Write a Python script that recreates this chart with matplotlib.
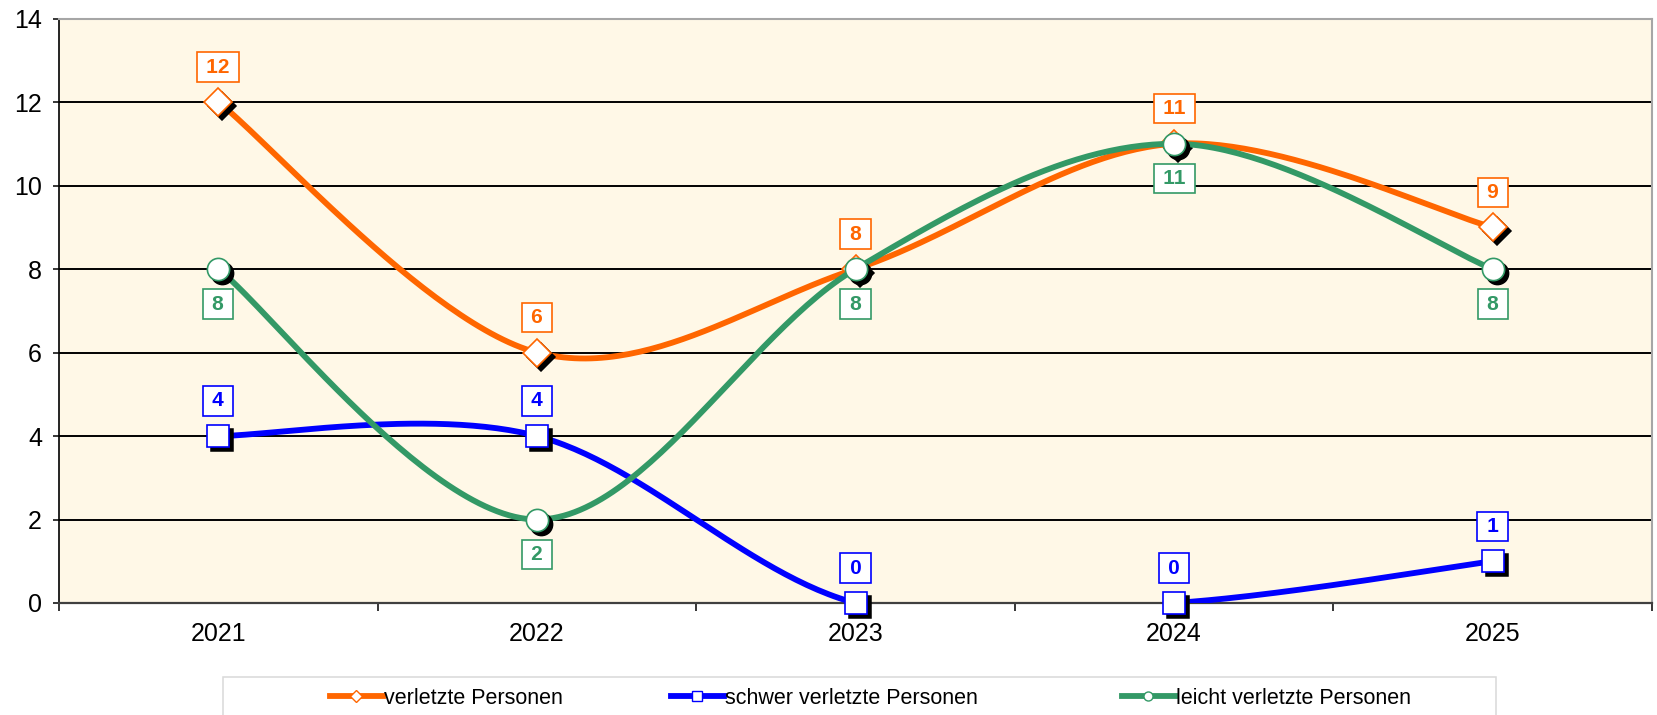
import numpy as np
import matplotlib
matplotlib.use("Agg")
import matplotlib.pyplot as plt
from matplotlib.transforms import ScaledTranslation
from matplotlib.lines import Line2D
from matplotlib.patches import Rectangle

plt.rcParams['font.family'] = ['Liberation Sans', 'DejaVu Sans']

years = ["2021", "2022", "2023", "2024", "2025"]
verletzte = [12, 6, 8, 11, 9]
schwer = [4, 4, 0, 0, 1]
leicht = [8, 2, 8, 11, 8]
series_names = ["verletzte Personen", "schwer verletzte Personen", "leicht verletzte Personen"]
yticks = [0, 2, 4, 6, 8, 10, 12, 14]

C_OR = "#FF6600"
C_BL = "#0000FF"
C_GR = "#339966"
BG = "#FFF8E7"

def smooth(xs, ys, n=60):
    xs = np.asarray(xs, float); ys = np.asarray(ys, float)
    P = np.column_stack([xs, ys])
    out = []
    m = len(P)
    for i in range(m - 1):
        p0 = P[max(i - 1, 0)]; p1 = P[i]; p2 = P[i + 1]; p3 = P[min(i + 2, m - 1)]
        c1 = p1 + (p2 - p0) / 6.0
        c2 = p2 - (p3 - p1) / 6.0
        t = np.linspace(0, 1, n)[:, None]
        seg = ((1 - t) ** 3) * p1 + 3 * ((1 - t) ** 2) * t * c1 + 3 * (1 - t) * t ** 2 * c2 + t ** 3 * p2
        if i > 0:
            seg = seg[1:]
        out.append(seg)
    out = np.vstack(out)
    y = out[:, 1].copy()
    y[y < -1e-6] = np.nan
    return out[:, 0], y

fig = plt.figure(figsize=(16.58, 7.15), dpi=100)
ax = fig.add_axes([59 / 1658, 112 / 715, 1593 / 1658, 584.5 / 715])
ax.set_facecolor(BG)

x = np.arange(1, len(years) + 1)
ax.set_xlim(0.5, len(years) + 0.5)
ax.set_ylim(0, 14)

ax.set_yticks(yticks)
ax.yaxis.grid(True, color="black", lw=1.4, zorder=1)
ax.set_axisbelow(True)
ax.tick_params(axis="y", direction="out", length=4.3, width=1.1, pad=8, labelsize=18, colors="black")

ax.set_xticks(np.arange(0.5, len(years) + 1, 1.0))
ax.set_xticklabels([])
ax.set_xticks(x, minor=True)
ax.set_xticklabels(years, minor=True)
ax.tick_params(axis="x", which="minor", length=0, pad=14, labelsize=18)
ax.tick_params(axis="x", which="major", direction="out", length=6, width=1.1, color="black")

ax.spines["left"].set_color("black"); ax.spines["left"].set_linewidth(1.2)
ax.spines["bottom"].set_color("#404040"); ax.spines["bottom"].set_linewidth(1.6)
for s in ("top", "right"):
    ax.spines[s].set_color("#A6A6A6"); ax.spines[s].set_linewidth(1.5)
for s in ax.spines.values():
    s.set_zorder(2.5)

shadow_tr = ax.transData + ScaledTranslation(4 / 100, -4 / 100, fig.dpi_scale_trans)

specs = [
    (verletzte, C_OR, "D", 14.5, 1),
    (schwer, C_BL, "s", 15.5, 1),
    (leicht, C_GR, "o", 16, -1),
]
handles = []
for k, (vals, col, mk, ms, side) in enumerate(specs):
    z = 3 + k
    sx, sy = smooth(x, vals)
    ax.plot(sx, sy, color=col, lw=4.2, solid_capstyle="round", zorder=z, clip_on=True)
    ax.plot(x, vals, ls="none", marker=mk, ms=ms, mfc="black", mec="black", mew=1.1,
            transform=shadow_tr, zorder=z + 0.1, clip_on=False)
    ax.plot(x, vals, ls="none", marker=mk, ms=ms, mfc="white", mec=col, mew=1.2,
            zorder=z + 0.2, clip_on=False)
    for xi, v in zip(x, vals):
        ax.annotate(f"\u2009{v}\u2009", (xi, v), xytext=(0, side * 25.2), textcoords="offset points",
                    ha="center", va="center", fontsize=15, fontweight="bold", color=col,
                    bbox=dict(boxstyle="square,pad=0.25", fc="white", ec=col, lw=1.2),
                    zorder=10, annotation_clip=False)
    handles.append(Line2D([], [], color=col, lw=4.2, marker=mk, ms=6.5, mfc="white", mec=col, mew=1))

# legend box
fig.add_artist(Rectangle((223 / 1658, -0.02), (1496 - 223) / 1658, 0.02 + 38 / 715,
                         transform=fig.transFigure, fc="white", ec="#D9D9D9", lw=1.1))
lx = [330, 671, 1122]
for h, name, px in zip(handles, series_names, lx):
    fig.legend([h], [name], loc="center left", bbox_to_anchor=(px / 1658, 17 / 715),
               frameon=False, borderpad=0, borderaxespad=0, handlelength=2.45,
               handletextpad=0.05, fontsize=15.5)

fig.savefig("out.png", dpi=100, facecolor="white")
